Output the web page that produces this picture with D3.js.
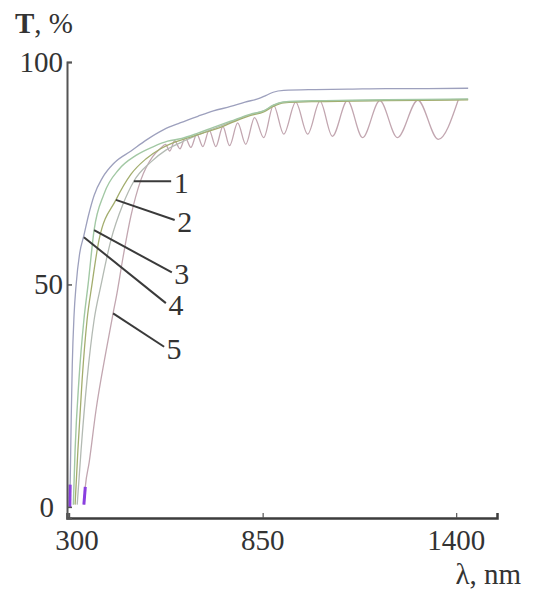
<!DOCTYPE html>
<html>
<head>
<meta charset="utf-8">
<script src="https://cdn.jsdelivr.net/npm/d3@7"></script>
<style>
  body { margin: 0; background: #fff; }
  svg { display: block; }
  text { font-family: "Liberation Serif", "Times New Roman", serif; fill: #333; }
</style>
</head>
<body>
<svg width="537" height="590"></svg>
<script>
// transmission spectra, [wavelength nm, T %]
const curve1 = [[323,0.5],[334,12.8],[351,28.6],[371,42],[391,50],[419,60],[453,68],[484,73.2],[532,77.5],[575,80.2],[620,82],[666,83.6],[710,85],[759,86.5],[816,88.2],[853,89],[880,90.2],[910,91],[1000,91.2],[1100,91.3],[1200,91.4],[1300,91.5],[1434,91.6]];
const curve2 = [[317,0.5],[325,12.8],[337,28.6],[351,42],[365,50],[385,60],[433,69],[476,74.8],[518,78.2],[560,80.5],[600,82],[640,83],[680,84],[720,85],[760,86.3],[816,88],[853,88.8],[880,90],[910,90.8],[1000,91.1],[1100,91.2],[1200,91.3],[1300,91.4],[1434,91.5]];
const curve3 = [[312,0.5],[317,12.8],[328,28.6],[342,42],[354,50],[371,62.2],[399,70.3],[442,75.9],[490,79],[540,81],[580,82.2],[620,82.8],[666,84],[710,85.3],[759,86.7],[816,88.3],[853,89],[880,90.3],[910,91],[1000,91.3],[1100,91.4],[1200,91.5],[1300,91.6],[1434,91.7]];
const curve4 = [[302,0],[303,5],[304,10],[306,20],[309,32],[314,43],[320,50],[330,57],[342,61],[355,65.5],[371,70],[395,74],[428,77.3],[476,80],[520,82.5],[569,84.8],[615,86.3],[666,87.8],[710,89],[759,90],[800,91],[840,91.8],[860,92.5],[880,93.2],[910,93.6],[1000,93.8],[1100,93.9],[1200,94],[1300,94],[1434,94.1]];
const curve5 = [[342,0.5],[346,4.5],[357,10],[376,21.5],[405,35],[425,43.5],[436,48],[453,56],[476,65.5],[504,73.5],[538,78.8],[560,80.6],
  [574,81.5],[586,80],[600,82.3],[615,80.5],[630,83],[646,80.8],[663,83.8],[680,81],[698,84.7],[717,81],[737,85.5],[756,81.2],
  [779,86.3],[802,81.5],[827,87.5],[853,83],[881,90.3],[910,83.8],[944,91],[978,83.8],[1013,91.2],[1048,83.3],[1091,91.3],
  [1134,83],[1183,91.3],[1233,83],[1291,91.4],[1349,82.6],[1406,91.5]];

const xTicks = [300, 850, 1400];
const yTicks = [0, 50, 100];
const labels = [
  { name: "1", from: [484, 73.2], to: [590, 73.2] },
  { name: "2", from: [433, 69], to: [600, 64.5] },
  { name: "3", from: [371, 62.2], to: [592, 52.7] },
  { name: "4", from: [342, 60.6], to: [575, 45.8] },
  { name: "5", from: [425, 43.5], to: [570, 36] }
];

let width = 537, height = 590;
let margin = ({ top: 62, right: 40, bottom: 72, left: 67 });

const svg = d3.select("svg");

const x = d3.scaleLinear().domain([294, 1516]).range([margin.left, width - margin.right]);
const y = d3.scaleLinear().domain([-2.5, 100]).range([height - margin.bottom, margin.top]);

const line = d3.line()
  .x(d => x(d[0]))
  .y(d => y(d[1]))
  .curve(d3.curveMonotoneX);

// curves
const curves = [
  { data: curve5, color: "#c2a6b0", w: 1.3 },
  { data: curve1, color: "#b3bab3", w: 1.3 },
  { data: curve2, color: "#a3ad6e", w: 1.3 },
  { data: curve3, color: "#a2c8a4", w: 1.4 },
  { data: curve4, color: "#9da0bd", w: 1.3 }
];
svg.append("g").selectAll("path")
  .data(curves)
  .join("path")
  .attr("d", d => line(d.data))
  .attr("fill", "none")
  .attr("stroke", d => d.color)
  .attr("stroke-width", d => d.w);

// purple starts near zero
svg.append("g").selectAll("path")
  .data([curve4, curve5])
  .join("path")
  .attr("d", d => d3.line().x(p => x(p[0])).y(p => y(p[1]))(d.filter(p => p[1] <= 5)))
  .attr("fill", "none")
  .attr("stroke", "#8a3fe0")
  .attr("stroke-width", 3);

// axes
const xAxis = d3.axisBottom(x).tickValues(xTicks).tickSize(-5).tickFormat("");
svg.append("g")
  .attr("transform", `translate(0,${y(-2.5)})`)
  .call(xAxis)
  .call(g => g.select(".domain").attr("stroke", "#3d3d3d").attr("stroke-width", 2.5))
  .call(g => g.selectAll(".tick line").attr("stroke", "#555").attr("stroke-width", 1.2));

const yAxis = d3.axisLeft(y).tickValues(yTicks).tickSize(-5).tickFormat("");
svg.append("g")
  .attr("transform", `translate(${margin.left},0)`)
  .call(yAxis)
  .call(g => g.select(".domain").attr("stroke", "#555").attr("stroke-width", 2))
  .call(g => g.selectAll(".tick line").attr("stroke", "#555").attr("stroke-width", 1.5));

// tick labels
svg.append("g").selectAll("text")
  .data(xTicks)
  .join("text")
  .attr("x", d => x(d) + (d === 300 ? 8 : 0))
  .attr("y", 550)
  .attr("text-anchor", "middle")
  .attr("font-size", 29)
  .text(d => d);

svg.append("g").selectAll("text")
  .data(yTicks)
  .join("text")
  .attr("x", d => d === 0 ? 54 : 63)
  .attr("y", d => y(d) + 10)
  .attr("text-anchor", "end")
  .attr("font-size", 29)
  .text(d => d);

// axis titles
const yTitle = svg.append("text").attr("x", 15).attr("y", 33).attr("font-size", 29);
yTitle.append("tspan").attr("font-weight", "bold").text("T");
yTitle.append("tspan").text(", %");

svg.append("text")
  .attr("x", 521)
  .attr("y", 584)
  .attr("text-anchor", "end")
  .attr("font-size", 29)
  .text("λ, nm");

// curve labels with leader lines
const lab = svg.append("g").selectAll("g").data(labels).join("g");
lab.append("line")
  .attr("x1", d => x(d.from[0])).attr("y1", d => y(d.from[1]))
  .attr("x2", d => x(d.to[0])).attr("y2", d => y(d.to[1]))
  .attr("stroke", "#3a3a3a")
  .attr("stroke-width", 2);
lab.append("text")
  .attr("x", d => x(d.to[0]) + 10)
  .attr("y", d => y(d.to[1]) + 12)
  .attr("text-anchor", "middle")
  .attr("font-size", 30)
  .text(d => d.name);
</script>
</body>
</html>
